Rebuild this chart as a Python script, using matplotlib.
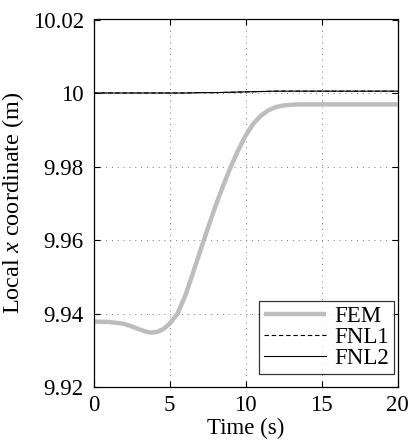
import numpy as np
import matplotlib
matplotlib.use("Agg")
import matplotlib.pyplot as plt

# FEM reference trajectory (local x coordinate vs time)
t_fem = [0, 1, 2, 2.5, 3, 3.5, 3.8, 4.2, 4.6, 5.0, 5.5, 6, 6.5, 7, 7.5, 8, 8.5, 9,
         9.5, 10, 10.5, 11, 11.5, 12, 12.5, 13, 13.5, 14, 15, 16, 18, 20]
x_fem = [9.9378, 9.9377, 9.9372, 9.9365, 9.9357, 9.9350, 9.9348, 9.9350, 9.9358,
         9.9372, 9.9398, 9.9445, 9.9505, 9.9568, 9.9630, 9.9690, 9.9745, 9.9797,
         9.9843, 9.9884, 9.9916, 9.9938, 9.9953, 9.9962, 9.9966, 9.9968, 9.9969,
         9.9969, 9.9969, 9.9969, 9.9969, 9.9969]

# Reduced-model trajectories
t_fnl = [0, 2, 4, 6, 7, 8, 9, 10, 11, 12, 13, 14, 16, 18, 20]
x_fnl1 = [10.0000, 10.0000, 10.0000, 10.0000, 10.0001, 10.0001, 10.0002, 10.0003,
          10.0004, 10.0005, 10.0005, 10.0005, 10.0005, 10.0005, 10.0005]
x_fnl2 = [10.0000, 10.0000, 10.0000, 10.0000, 10.0001, 10.0001, 10.0002, 10.0003,
          10.0004, 10.0005, 10.0005, 10.0005, 10.0005, 10.0005, 10.0005]

xticks = [0, 5, 10, 15, 20]
yticks = [9.92, 9.94, 9.96, 9.98, 10.0, 10.02]
ytick_labels = ["9.92", "9.94", "9.96", "9.98", "10", "10.02"]

plt.rcParams["font.family"] = ["Liberation Serif", "DejaVu Serif"]
plt.rcParams["mathtext.fontset"] = "custom"
plt.rcParams["mathtext.it"] = "Liberation Serif:italic"
plt.rcParams["mathtext.rm"] = "Liberation Serif"

FS = 16.5

fig = plt.figure(figsize=(4.15, 4.48), dpi=100)
ax = fig.add_axes([93.5 / 415, 1 - 387 / 448, (397.7 - 93.5) / 415, (387 - 19.5) / 448])

ax.plot(t_fem, x_fem, color="#bdbdbf", lw=3.2, label="FEM", solid_capstyle="butt")
ax.plot(t_fnl, x_fnl1, color="black", lw=0.8, ls=(0, (4, 2.5)), label="FNL1")
ax.plot(t_fnl, x_fnl2, color="black", lw=0.8, label="FNL2")

ax.set_xlim(0, 20)
ax.set_ylim(9.92, 10.02)
ax.set_xticks(xticks)
ax.set_yticks(yticks)
ax.set_yticklabels(ytick_labels)
ax.grid(True, color="#777777", ls=(0, (1, 5)), lw=0.7)
# the outermost grid lines coincide with the frame; hide them
ygl = ax.yaxis.get_gridlines()
ygl[0].set_visible(False)
ygl[-1].set_visible(False)
xgl = ax.xaxis.get_gridlines()
xgl[0].set_visible(False)
xgl[-1].set_visible(False)

ax.tick_params(direction="in", top=True, right=True, labelsize=FS, length=4, width=0.8)
ax.tick_params(axis="y", pad=7)
ax.tick_params(axis="x", pad=6)
for s in ax.spines.values():
    s.set_linewidth(0.9)

ax.set_xlabel("Time (s)", fontsize=FS, labelpad=1)
ax.set_ylabel("Local $x$ coordinate (m)", fontsize=FS + 1, labelpad=5)

leg = ax.legend(loc="lower right", bbox_to_anchor=(0.988, 0.035), fontsize=FS,
                frameon=True, fancybox=False, edgecolor="black", borderpad=0.22,
                labelspacing=0.0, handlelength=2.7, handletextpad=0.35,
                borderaxespad=0.0)
leg.get_frame().set_linewidth(0.9)

fig.savefig("out.png", dpi=100)
